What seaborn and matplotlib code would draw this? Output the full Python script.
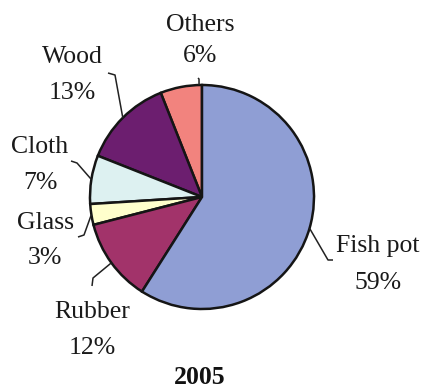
import matplotlib
matplotlib.use("Agg")
import matplotlib.pyplot as plt
import seaborn as sns
import numpy as np

categories = ["Others", "Wood", "Cloth", "Glass", "Rubber", "Fish pot"]
values = [6, 13, 7, 3, 12, 59]
colors = ["#F2837E", "#6C1E6F", "#DDF1F1", "#FFFFCC", "#A2336A", "#8F9ED4"]
title = "2005"

sns.set_theme(style="white")
plt.rcParams["font.family"] = ["Liberation Serif", "DejaVu Serif"]

W, H = 434, 389
fig = plt.figure(figsize=(W / 100, H / 100), dpi=100)
ax = fig.add_axes([0, 0, 1, 1])

# layout (pixels)
cx, cy, R = 202, 197, 112


def p2d(px, py):
    return ((px - cx) / R, (cy - py) / R)


wedges, _ = ax.pie(values, colors=colors, startangle=90, counterclock=True,
                   radius=1.0, center=(0, 0),
                   wedgeprops=dict(edgecolor="#151515", linewidth=1.8))
ax.set_aspect("equal")
ax.set_xlim(-cx / R, (W - cx) / R)
ax.set_ylim(-(H - cy) / R, cy / R)
ax.axis("off")

# label layout: name position, pct position, leader path (tick start, elbow) in pixels
layout = {
    "Others":   dict(name=(200, 25), pct=(200, 56), path=[(198, 78), (199, 79)], rim_angle=91.5),
    "Wood":     dict(name=(72, 57), pct=(72, 93), path=[(108, 73), (115, 75)]),
    "Cloth":    dict(name=(40, 147), pct=(40, 183), path=[(71, 161), (77, 163)]),
    "Glass":    dict(name=(45, 223), pct=(45, 258), path=[(78, 237), (84, 235)]),
    "Rubber":   dict(name=(92, 312), pct=(92, 348), path=[(92, 286), (93, 278)]),
    "Fish pot": dict(name=(378, 246), pct=(378, 283), path=[(333, 260), (328, 260)]),
}

fs = 18.5
for w, cat, val in zip(wedges, categories, values):
    L = layout[cat]
    ang = L.get("rim_angle", (w.theta1 + w.theta2) / 2)
    rx, ry = np.cos(np.radians(ang)), np.sin(np.radians(ang))
    pts = [p2d(*p) for p in L["path"]] + [(rx, ry)]
    xs, ys = zip(*pts)
    ax.plot(xs, ys, color="#222222", lw=1.1, solid_capstyle="butt")
    nx, ny = p2d(*L["name"])
    ax.text(nx, ny, cat, ha="center", va="center", fontsize=fs, color="#1a1a1a")
    px, py = p2d(*L["pct"])
    ax.text(px, py, f"{val}%", ha="center", va="center", fontsize=fs, color="#1a1a1a")

tx, ty = p2d(200, 377)
ax.text(tx, ty, title, ha="center", va="center", fontsize=fs, fontweight="bold",
        color="#111111")

fig.savefig("out.png", dpi=100, facecolor="white")
